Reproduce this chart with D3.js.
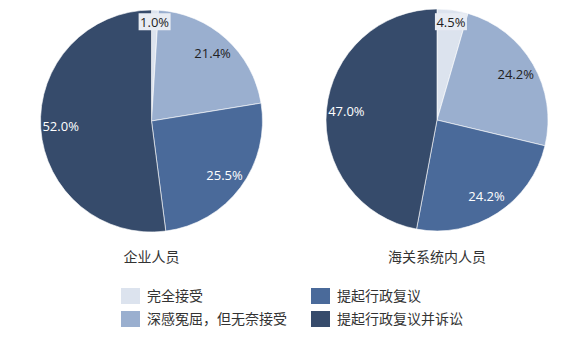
<!DOCTYPE html>
<html>
<head>
<meta charset="utf-8">
<script src="https://cdn.jsdelivr.net/npm/d3@7"></script>
<style>
  body { margin: 0; background: #fff; }
  svg text { font-family: "Noto Sans CJK SC", sans-serif; }
  .pct { font-family: "Open Sans", "Noto Sans", sans-serif; font-size: 13px; }
</style>
</head>
<body>
<svg class="chart-svg"></svg>
<script>
const WIDTH = 582;
const HEIGHT = 348;

const categories = ["完全接受", "深感冤屈，但无奈接受", "提起行政复议", "提起行政复议并诉讼"];
const groups = ["企业人员", "海关系统内人员"];
const companyValues = [1.0, 21.4, 25.5, 52.0];
const customsValues = [4.5, 24.2, 24.2, 47.0];

const COLORS = ["#dce3ee", "#9aafcf", "#4a6a9a", "#364b6b"];
const LABEL_COLORS = ["#222", "#222", "#fff", "#fff"];

const RADIUS = 111;
const centers = [[151.5, 121], [437, 120]];

const svg = d3.select(".chart-svg").attr("width", WIDTH).attr("height", HEIGHT);

const pie = d3.pie().sort(null).value(d => d.value);
const arc = d3.arc().innerRadius(0).outerRadius(RADIUS);

[companyValues, customsValues].forEach((values, gi) => {
  const data = values.map((v, i) => ({ value: v, i: i }));
  const g = svg.append("g")
    .attr("transform", `translate(${centers[gi][0]}, ${centers[gi][1]})`);

  const arcs = pie(data);

  g.selectAll("path")
    .data(arcs)
    .enter()
    .append("path")
    .attr("d", arc)
    .attr("fill", d => COLORS[d.data.i])
    .attr("stroke", "#fff")
    .attr("stroke-width", 0.6);

  // small slices get their label pushed out a bit, with a box behind
  const labelPos = d => {
    const r = d.data.value < 5 ? RADIUS * 0.89 : RADIUS * 0.82;
    const a = (d.startAngle + d.endAngle) / 2;
    return [Math.sin(a) * r, -Math.cos(a) * r];
  };

  const labels = g.selectAll(".lbl")
    .data(arcs)
    .enter()
    .append("g")
    .attr("class", "lbl")
    .attr("transform", d => `translate(${labelPos(d)})`);

  labels.filter(d => d.data.value < 5)
    .append("rect")
    .attr("x", -16)
    .attr("y", -9)
    .attr("width", 32)
    .attr("height", 17)
    .attr("fill", "#e8ecf3");

  labels.append("text")
    .attr("class", "pct")
    .attr("text-anchor", "middle")
    .attr("dy", "0.35em")
    .attr("fill", d => LABEL_COLORS[d.data.i])
    .text(d => d.data.value.toFixed(1) + "%");

  svg.append("text")
    .attr("x", centers[gi][0])
    .attr("y", 257)
    .attr("dy", "0.35em")
    .attr("text-anchor", "middle")
    .style("font-size", "14px")
    .attr("fill", "#333")
    .text(groups[gi]);
});

// legend, two columns
const legendX = [121, 311];
const legendY = [296, 319];
const legend = svg.selectAll(".legend")
  .data(categories)
  .enter()
  .append("g")
  .attr("class", "legend")
  .attr("transform", (d, i) => `translate(${legendX[Math.floor(i / 2)]}, ${legendY[i % 2]})`);

legend.append("rect")
  .attr("x", 0)
  .attr("y", -8)
  .attr("width", 19)
  .attr("height", 16)
  .attr("fill", (d, i) => COLORS[i]);

legend.append("text")
  .attr("x", 26)
  .attr("dy", "0.35em")
  .style("font-size", "14px")
  .attr("fill", "#333")
  .text(d => d);
</script>
</body>
</html>
